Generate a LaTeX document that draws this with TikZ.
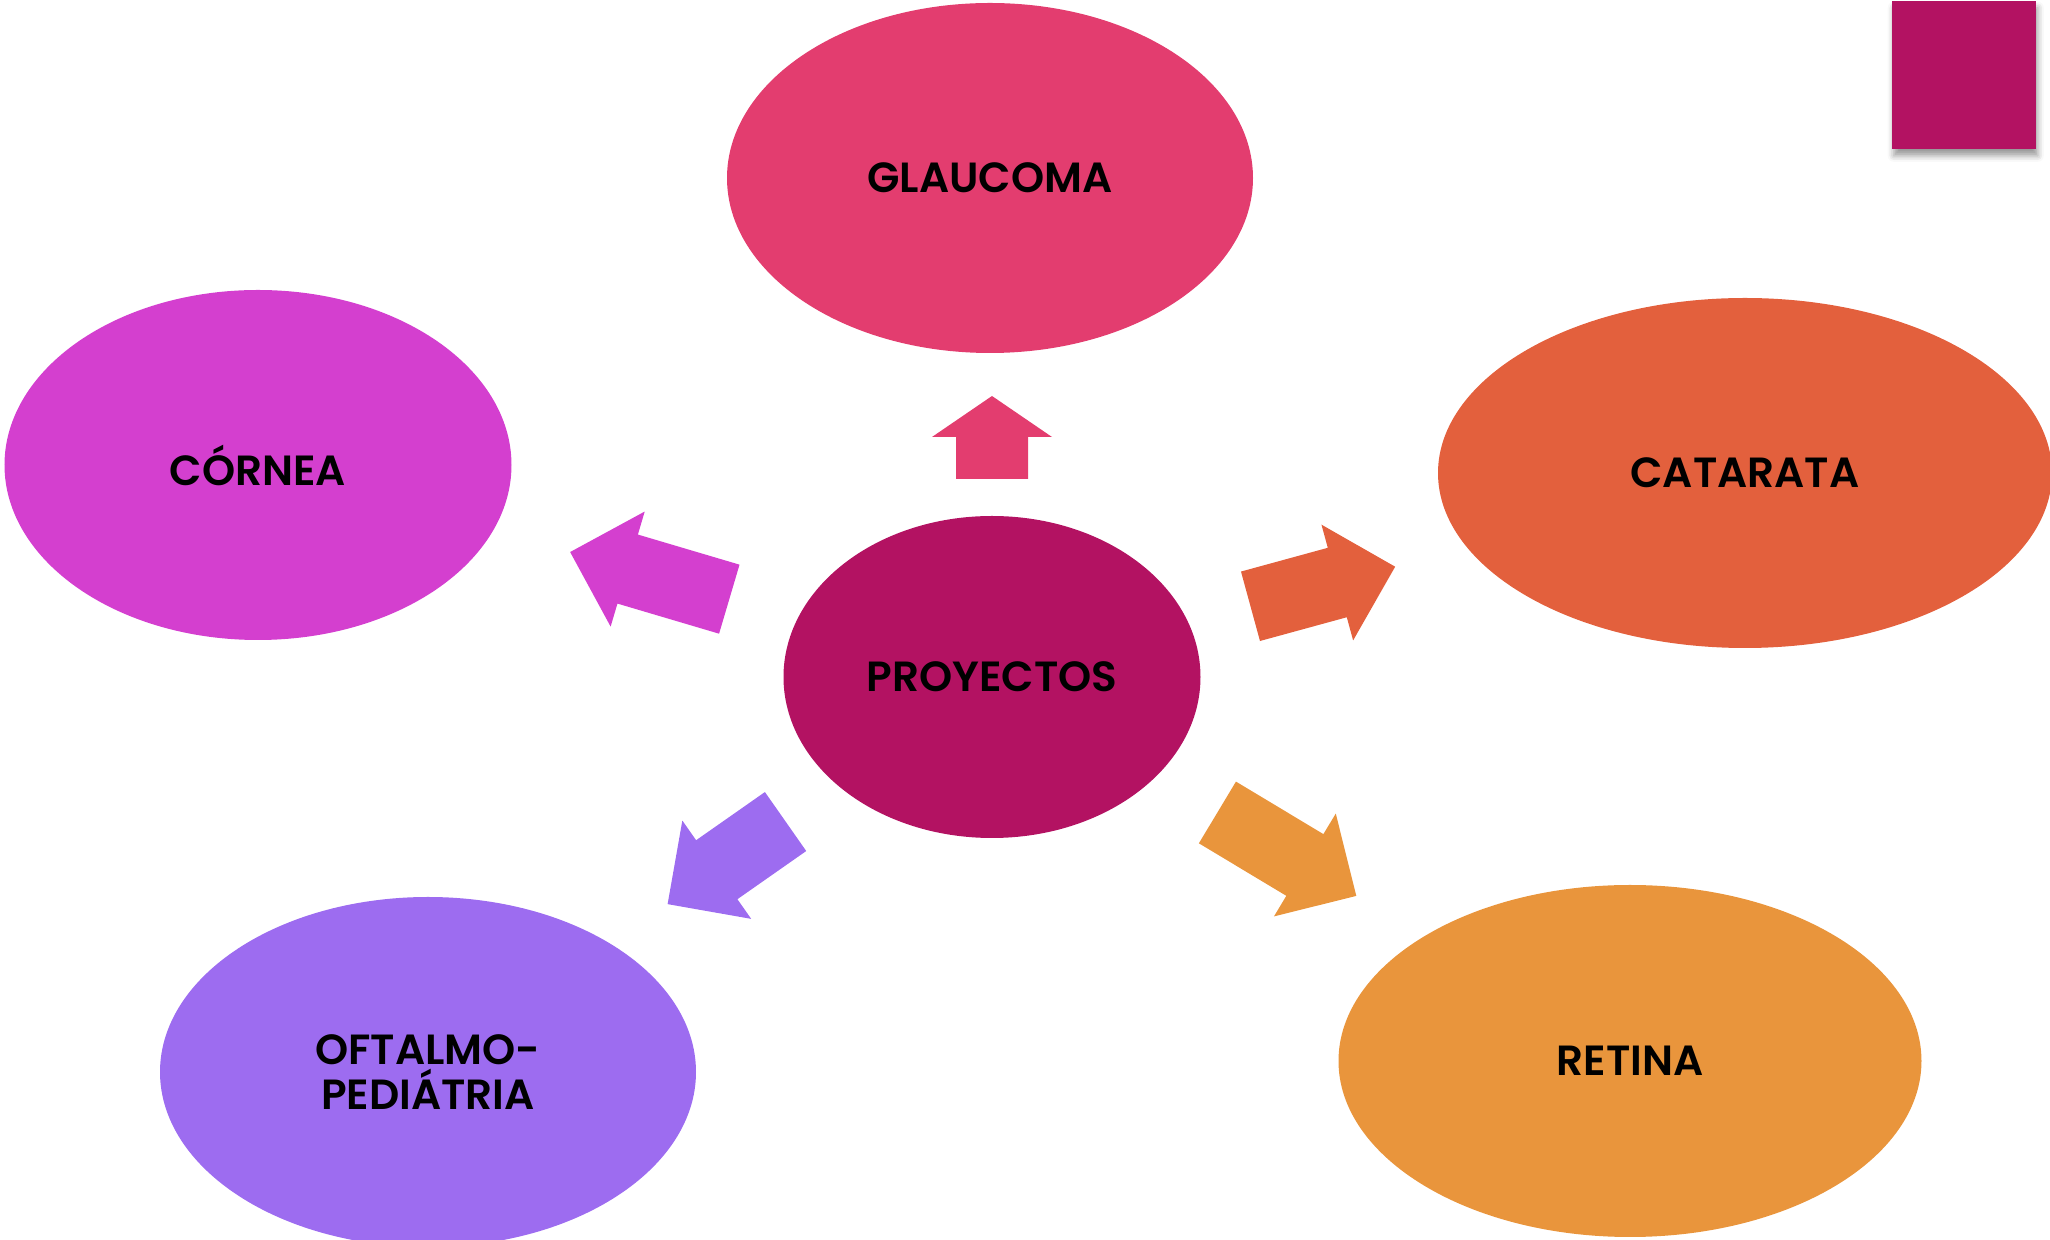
\documentclass[tikz,border=0pt]{standalone}
\usepackage{fontspec}
\setmainfont{Poppins}[BoldFont={Poppins SemiBold}]
\usetikzlibrary{shapes.geometric,shadows.blur}
\definecolor{cPro}{HTML}{B31262}
\definecolor{cGlau}{HTML}{E33D6F}
\definecolor{cCor}{HTML}{D43FCF}
\definecolor{cCat}{HTML}{E3603D}
\definecolor{cOft}{HTML}{9D6CF0}
\definecolor{cRet}{HTML}{E9953C}
\begin{document}
\begin{tikzpicture}
[x=0.01cm,y=-0.01cm,%
  bubble/.style={shape=ellipse,fill=#1,inner sep=0pt,align=center,%
    font=\fontsize{12}{12.8}\selectfont\bfseries},%
  tag/.style={fill=cPro,inner sep=0pt,minimum width=1.44cm,minimum height=1.48cm,%
    blur shadow={shadow xshift=0.02cm,shadow yshift=-0.07cm,shadow blur radius=0.06cm}}]
\useasboundingbox (0,0) rectangle (2050,1240);
%% corner tag
\node (tag) at (1891,0) [tag,anchor=north west] {};
%% bubbles
\foreach \name/\x/\y/\w/\h/\col/\txt in {pro/992/677/417/322/cPro/PROYECTOS,
  glau/990/178/526/350/cGlau/GLAUCOMA, cor/258/465/507/350/cCor/CÓRNEA,
  cat/1745/473/614/350/cCat/CATARATA, oft/428/1072/536/350/cOft/{OFTALMO-\\PEDIÁTRIA},
  ret/1630/1061/583/352/cRet/RETINA}
{
  \node (\name) at (\x,\y) [bubble=\col,minimum width=\w*0.01cm,minimum height=\h*0.01cm] {\txt};
}
%% block arrows out of the centre
\foreach \ang/\din/\dout/\hl/\col in {90/198/281/41/cGlau, 163.5/274/440/60/cCor,
  15.3/268/418/60/cCat, 215/252/396/60/cOft, -31/263/425/60/cRet}
{
  \fill[\col,shift={(pro)},rotate=\ang] (\din,-36) -- (\dout-\hl,-36) -- (\dout-\hl,-60)
    -- (\dout,0) -- (\dout-\hl,60) -- (\dout-\hl,36) -- (\din,36) -- cycle;
}
\end{tikzpicture}
\end{document}
